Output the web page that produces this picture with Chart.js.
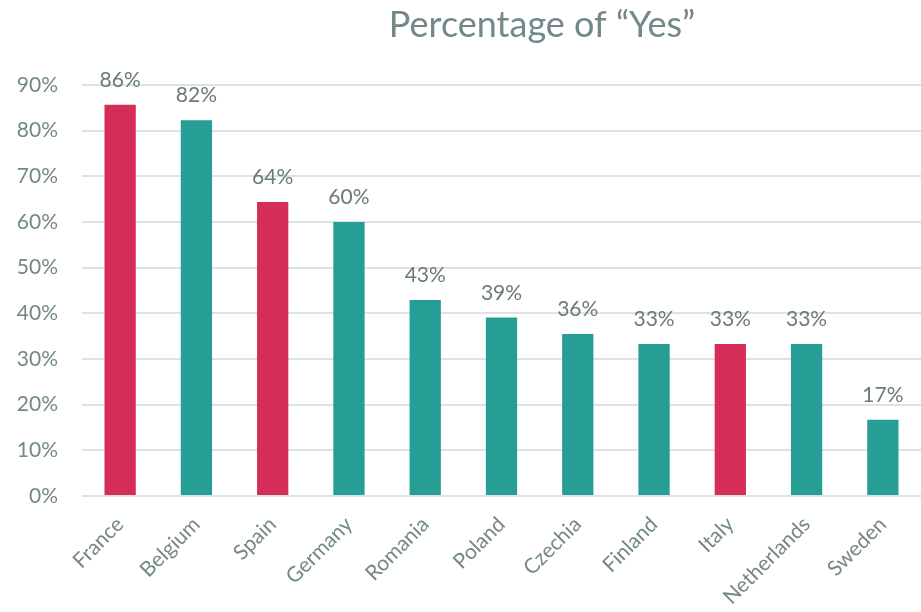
<!DOCTYPE html>
<html>
<head>
<meta charset="utf-8">
<script src="https://cdn.jsdelivr.net/npm/chart.js@4"></script>
<style>
  html, body { margin: 0; padding: 0; background: #fff; }
  #wrap { width: 921px; height: 612px; position: relative; }
</style>
</head>
<body>
<div id="wrap"><canvas id="bar-chart"></canvas></div>
<script>
var countries = ["France", "Belgium", "Spain", "Germany", "Romania", "Poland", "Czechia", "Finland", "Italy", "Netherlands", "Sweden"];
var yesPercent = [85.7, 82.3, 64.4, 60.0, 42.9, 39.1, 35.5, 33.3, 33.3, 33.3, 16.7];
var highlighted = ["France", "Spain", "Italy"];
var yTicks = [0, 10, 20, 30, 40, 50, 60, 70, 80, 90];

var red = "#d42d58";
var teal = "#269d95";
var textColor = "#738888";

var barColors = countries.map(function(c) {
  return highlighted.indexOf(c) >= 0 ? red : teal;
});

// draw the % label above each bar and the title
var labelsPlugin = {
  id: 'barLabels',
  afterDatasetsDraw: function(chart) {
    var ctx = chart.ctx;
    var meta = chart.getDatasetMeta(0);
    ctx.save();
    ctx.fillStyle = "#6a7a7a";
    ctx.font = "21px Lato";
    ctx.textAlign = "center";
    ctx.textBaseline = "bottom";
    meta.data.forEach(function(bar, i) {
      ctx.fillText(Math.round(yesPercent[i]) + "%", bar.x, bar.y - 14);
    });
    ctx.font = "36px Lato";
    ctx.fillStyle = textColor;
    ctx.textBaseline = "middle";
    ctx.fillText("Percentage of \u201cYes\u201d", 542, 25);
    ctx.restore();
  }
};

new Chart(document.getElementById("bar-chart"), {
  type: 'bar',
  data: {
    labels: countries,
    datasets: [{
      data: yesPercent,
      backgroundColor: barColors,
      barPercentage: 0.41,
      categoryPercentage: 1.0
    }]
  },
  options: {
    responsive: true,
    maintainAspectRatio: false,
    animation: false,
    layout: { padding: { top: 85, left: 16, right: 0, bottom: 0 } },
    plugins: {
      legend: { display: false },
      tooltip: { enabled: false }
    },
    scales: {
      x: {
        grid: { display: false },
        border: { display: false },
        afterFit: function(axis) {
          axis.paddingLeft = 0;
          axis.paddingRight = 0;
          axis.height = 116;
        },
        ticks: {
          color: textColor,
          font: { family: "Lato", size: 21 },
          maxRotation: 45,
          minRotation: 45,
          autoSkip: false,
          padding: 8
        }
      },
      y: {
        min: 0,
        max: 90,
        afterBuildTicks: function(axis) {
          axis.ticks = yTicks.map(function(v) { return { value: v }; });
        },
        afterFit: function(axis) {
          axis.width = 66;
        },
        grid: { color: "#dde3e3", lineWidth: 2, drawTicks: false },
        border: { display: false },
        ticks: {
          color: textColor,
          font: { family: "Lato", size: 21 },
          padding: 24,
          callback: function(v) { return v + "%"; }
        }
      }
    }
  },
  plugins: [labelsPlugin]
});
</script>
</body>
</html>
